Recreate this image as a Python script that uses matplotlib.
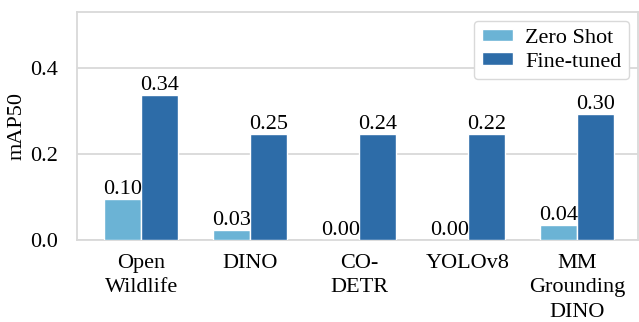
import matplotlib
matplotlib.use("Agg")
import matplotlib.pyplot as plt
import numpy as np

categories = ["Open\nWildlife", "DINO", "CO-\nDETR", "YOLOv8", "MM\nGrounding\nDINO"]
series_names = ["Zero Shot", "Fine-tuned"]
zero_shot = [0.095, 0.023, 0.0, 0.0, 0.035]
fine_tuned = [0.337, 0.247, 0.247, 0.247, 0.293]
zero_shot_labels = ["0.10", "0.03", "0.00", "0.00", "0.04"]
fine_tuned_labels = ["0.34", "0.25", "0.24", "0.22", "0.30"]
y_ticks = [0.0, 0.2, 0.4]

colors = ["#6bb3d5", "#2d6ca8"]
grid_color = "#d9d9d9"
fs = 16

plt.rcParams["font.family"] = ["Liberation Serif", "DejaVu Serif"]
plt.rcParams["font.size"] = fs

fig = plt.figure(figsize=(6.39, 3.22), dpi=100)
ax = fig.add_axes([77/639, 1-240/322, (638-77)/639, (240-12)/322])

x = np.arange(len(categories))
w = 0.34
b1 = ax.bar(x - w/2, zero_shot, w, color=colors[0], edgecolor="white", linewidth=1, label=series_names[0], zorder=3)
b2 = ax.bar(x + w/2, fine_tuned, w, color=colors[1], edgecolor="white", linewidth=1, label=series_names[1], zorder=3)
ax.bar_label(b1, labels=zero_shot_labels, padding=0, fontsize=fs)
ax.bar_label(b2, labels=fine_tuned_labels, padding=0, fontsize=fs)

ax.set_ylim(0, 0.53)
ax.set_xlim(-0.59, 4.56)
ax.set_yticks(y_ticks)
ax.set_yticklabels([f"{t:.1f}" for t in y_ticks])
ax.set_xticks(x)
ax.set_xticklabels(categories, linespacing=1.4)
ax.set_ylabel("mAP50")
ax.yaxis.set_label_coords(-0.09, 0.5)
ax.yaxis.grid(True, color=grid_color, linewidth=1.3, zorder=0)
ax.xaxis.grid(False)
ax.set_axisbelow(True)
for s in ax.spines.values():
    s.set_color(grid_color)
    s.set_linewidth(1.3)
ax.tick_params(axis="x", length=0, pad=10, labelsize=fs)
ax.tick_params(axis="y", length=0, pad=14, labelsize=fs)

leg = ax.legend(loc="upper right", fontsize=fs, frameon=True, fancybox=True,
                edgecolor=grid_color, framealpha=1, handlelength=1.4,
                handleheight=0.5, handletextpad=0.55, labelspacing=0.2,
                borderpad=0.35, borderaxespad=0.4)

fig.savefig("out.png", dpi=100)
